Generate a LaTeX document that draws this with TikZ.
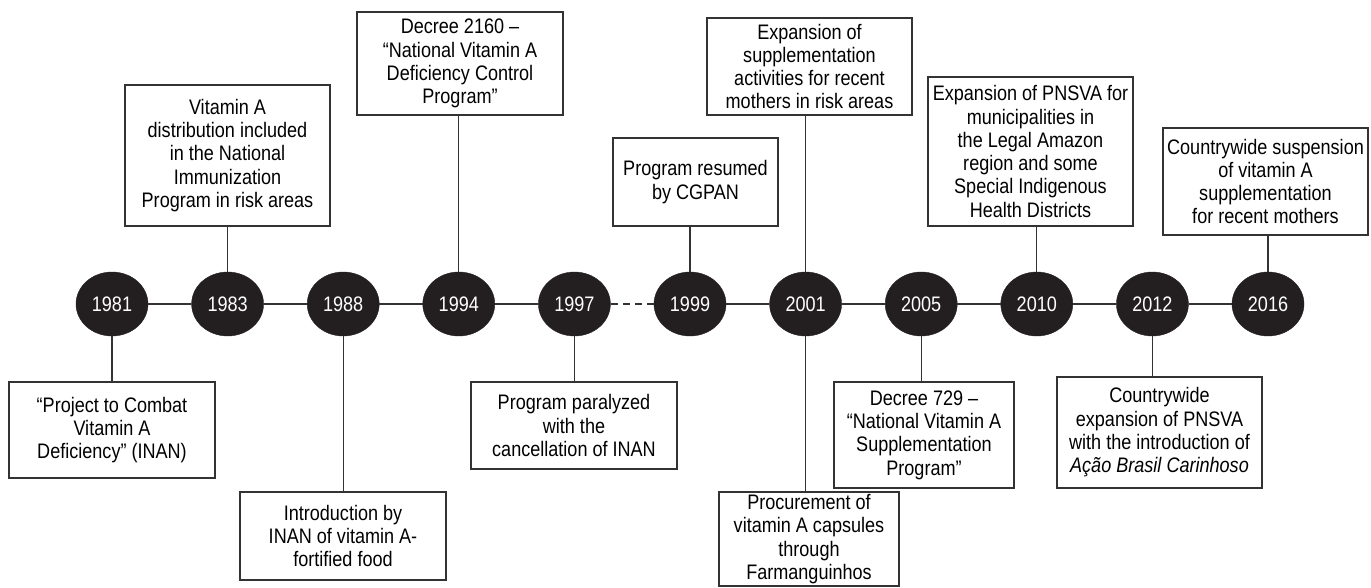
\documentclass[tikz,border=0pt]{standalone}
\usepackage{fontspec}
\setmainfont{Liberation Sans}[FakeStretch=0.86]
\usetikzlibrary{shapes.geometric}
\definecolor{inkc}{HTML}{231F20}
\definecolor{edgec}{HTML}{333333}
\tikzset{
  yearnode/.style={ellipse, fill=inkc, draw=inkc, minimum width=72pt, minimum height=64pt, inner sep=0pt, text=white, font=\fontsize{21}{23.3}\selectfont},
  eventbox/.style={draw=edgec, line width=1.2pt, fill=white, align=center, inner sep=0pt, font=\fontsize{21}{23.3}\selectfont},
  link/.style={draw=edgec, line width=1.2pt},
}
\begin{document}
\begin{tikzpicture}[x=1pt,y=-1pt]
\useasboundingbox (0,0) rectangle (1371,588);
% timeline nodes
\node[yearnode] (y1981) at (112,304) {1981};
\node[yearnode] (y1983) at (227.6,304) {1983};
\node[yearnode] (y1988) at (343.2,304) {1988};
\node[yearnode] (y1994) at (458.8,304) {1994};
\node[yearnode] (y1997) at (574.4,304) {1997};
\node[yearnode] (y1999) at (690,304) {1999};
\node[yearnode] (y2001) at (805.6,304) {2001};
\node[yearnode] (y2005) at (921.2,304) {2005};
\node[yearnode] (y2010) at (1036.8,304) {2010};
\node[yearnode] (y2012) at (1152.4,304) {2012};
\node[yearnode] (y2016) at (1268,304) {2016};
% event boxes
\node[eventbox, minimum width=206pt, minimum height=96pt] (b1981) at (112,430) {“Project to Combat\\Vitamin A\\Deficiency” (INAN)};
\node[eventbox, minimum width=205pt, minimum height=141pt] (b1983) at (227.5,155.5) {Vitamin A\\distribution included\\in the National\\Immunization\\Program in risk areas};
\node[eventbox, minimum width=206pt, minimum height=88pt] (b1988) at (343,536) {Introduction by\\INAN of vitamin A-\\fortified food};
\node[eventbox, minimum width=206pt, minimum height=103pt] (b1994) at (460,63.5) {Decree 2160 –\\“National Vitamin A\\Deficiency Control\\Program”};
\node[eventbox, minimum width=206pt, minimum height=87pt] (b1997) at (574,425.5) {Program paralyzed\\with the\\cancellation of INAN};
\node[eventbox, minimum width=165pt, minimum height=88pt] (b1999) at (695.5,182) {Program resumed\\by CGPAN};
\node[eventbox, minimum width=205pt, minimum height=97pt] (b2001a) at (809.5,66.5) {Expansion of\\supplementation\\activities for recent\\mothers in risk areas};
\node[eventbox, minimum width=180pt, minimum height=94pt] (b2001b) at (809,539) {Procurement of\\vitamin A capsules\\through\\Farmanguinhos};
\node[eventbox, minimum width=180pt, minimum height=106pt] (b2005) at (924,435) {Decree 729 –\\“National Vitamin A\\Supplementation\\Program”};
\node[eventbox, minimum width=205pt, minimum height=149pt] (b2010) at (1030.5,151.5) {Expansion of PNSVA for\\municipalities in\\the Legal Amazon\\region and some\\Special Indigenous\\Health Districts};
\node[eventbox, minimum width=205pt, minimum height=111pt] (b2012) at (1159.5,432.5) {Countrywide\\expansion of PNSVA\\with the introduction of\\\textit{Ação Brasil Carinhoso}};
\node[eventbox, minimum width=205pt, minimum height=107pt] (b2016) at (1265.5,181.5) {Countrywide suspension\\of vitamin A\\supplementation\\for recent mothers};
% timeline links
\draw[link] (y1981) -- (y1983);
\draw[link] (y1983) -- (y1988);
\draw[link] (y1988) -- (y1994);
\draw[link] (y1994) -- (y1997);
\draw[link, dash pattern=on 7pt off 5pt] (y1997) -- (y1999);
\draw[link] (y1999) -- (y2001);
\draw[link] (y2001) -- (y2005);
\draw[link] (y2005) -- (y2010);
\draw[link] (y2010) -- (y2012);
\draw[link] (y2012) -- (y2016);
% event connectors
\draw[link] (y1981.south) -- (y1981.south |- b1981.north);
\draw[link] (y1983.north) -- (y1983.north |- b1983.south);
\draw[link] (y1988.south) -- (y1988.south |- b1988.north);
\draw[link] (y1994.north) -- (y1994.north |- b1994.south);
\draw[link] (y1997.south) -- (y1997.south |- b1997.north);
\draw[link] (y1999.north) -- (y1999.north |- b1999.south);
\draw[link] (y2001.north) -- (y2001.north |- b2001a.south);
\draw[link] (y2001.south) -- (y2001.south |- b2001b.north);
\draw[link] (y2005.south) -- (y2005.south |- b2005.north);
\draw[link] (y2010.north) -- (y2010.north |- b2010.south);
\draw[link] (y2012.south) -- (y2012.south |- b2012.north);
\draw[link] (y2016.north) -- (y2016.north |- b2016.south);
\end{tikzpicture}
\end{document}
